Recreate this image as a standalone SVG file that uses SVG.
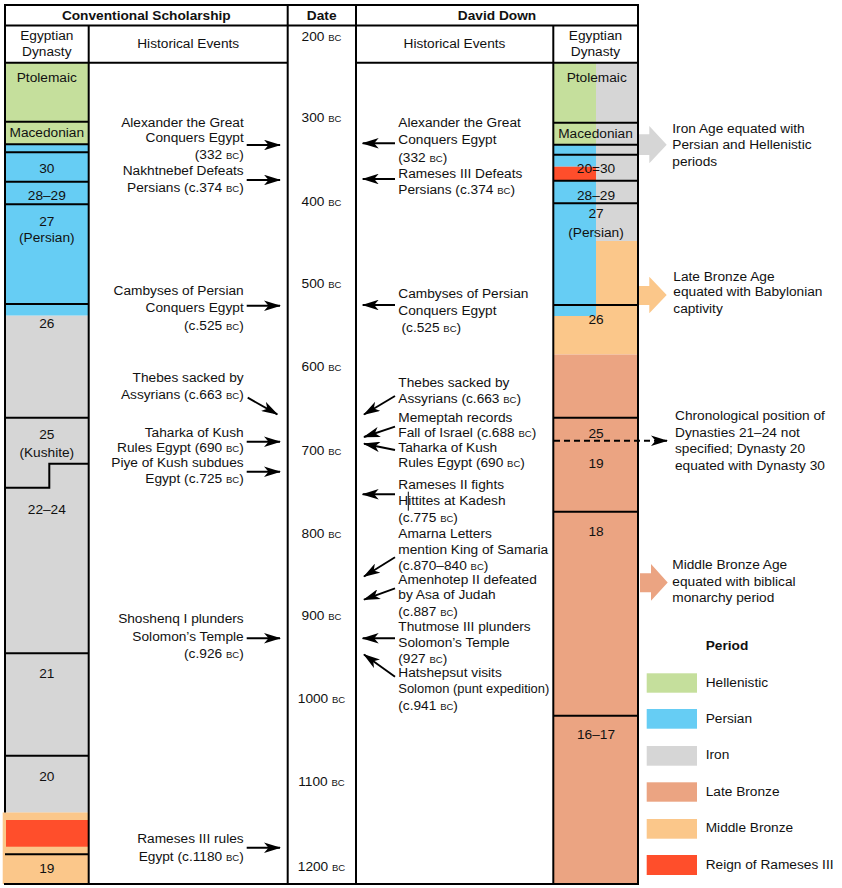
<svg xmlns="http://www.w3.org/2000/svg" width="842" height="888" viewBox="0 0 842 888">
<defs>
<style>
.t{font-family:"Liberation Sans",Arial,Helvetica,sans-serif;font-size:13.7px;fill:#111}
.b{font-weight:bold}
.m{text-anchor:middle}
.e{text-anchor:end}
.bc{font-size:9.5px}
.ln{stroke:#000;stroke-width:2;fill:none}
.ar{stroke:#000;stroke-width:1.9;fill:none;marker-end:url(#ah)}
.gr{fill:#C5DF9C}.bl{fill:#66CDF4}.ir{fill:#D6D6D6}.lb{fill:#EBA482}.mb{fill:#FBC78A}.rr{fill:#FF4E2B}
</style>
<marker id="ah" viewBox="0 0 17 10.5" refX="16" refY="5.25" markerWidth="17" markerHeight="10.5" markerUnits="userSpaceOnUse" orient="auto">
<path d="M0,0 L17,5.25 L0,10.5 L4.5,5.25 Z" fill="#000"/>
</marker>
</defs>
<rect width="842" height="888" fill="#fff"/>

<g id="conv-dynasty-fills">
<rect class="gr" x="5" y="62.7" width="83.7" height="81.6"/>
<rect class="bl" x="5" y="144.3" width="83.7" height="171.4"/>
<rect class="ir" x="5" y="315.7" width="83.7" height="497"/>
<rect class="mb" x="2.7" y="812.5" width="86" height="71.5"/>
<rect class="rr" x="6" y="820" width="82.7" height="26.7"/>
</g>

<g id="down-dynasty-fills">
<rect class="gr" x="553.3" y="62.7" width="42.7" height="82"/>
<rect class="bl" x="553.3" y="144.7" width="42.7" height="22"/>
<rect class="rr" x="553.3" y="166.7" width="42.7" height="14"/>
<rect class="bl" x="553.3" y="180.7" width="42.7" height="135.3"/>
<rect class="mb" x="553.3" y="316" width="42.7" height="38.5"/>
<rect class="ir" x="596" y="62.7" width="42" height="178.3"/>
<rect class="mb" x="596" y="241" width="42" height="113.5"/>
<rect class="lb" x="553.3" y="354.5" width="84.7" height="529.5"/>
</g>

<g id="frame">
<line class="ln" x1="5" y1="5" x2="638" y2="5"/>
<line class="ln" x1="5" y1="4" x2="5" y2="812.5"/>
<line class="ln" x1="4" y1="884" x2="639" y2="884"/>
<line class="ln" x1="638" y1="4" x2="638" y2="885"/>
<line class="ln" x1="5" y1="25.5" x2="638" y2="25.5"/>
<line class="ln" x1="5" y1="62.7" x2="287.7" y2="62.7"/>
<line class="ln" x1="356" y1="62.7" x2="638" y2="62.7"/>
<line class="ln" x1="88.7" y1="25.5" x2="88.7" y2="884"/>
<line class="ln" x1="287.7" y1="5" x2="287.7" y2="884"/>
<line class="ln" x1="356" y1="5" x2="356" y2="884"/>
<line class="ln" x1="553.3" y1="25.5" x2="553.3" y2="884"/>
</g>

<g id="headers">
<text class="t b m" x="146.3" y="20">Conventional Scholarship</text>
<text class="t b m" x="321.7" y="20">Date</text>
<text class="t b m" x="497" y="20">David Down</text>
<text class="t m" x="46.8" y="39.5">Egyptian</text>
<text class="t m" x="46.8" y="55.5">Dynasty</text>
<text class="t m" x="188.2" y="48.3">Historical Events</text>
<text class="t m" x="454.5" y="48.3">Historical Events</text>
<text class="t m" x="595.5" y="39.5">Egyptian</text>
<text class="t m" x="595.5" y="55.5">Dynasty</text>
</g>

<g id="conv-dynasties">
<line class="ln" x1="5" y1="121.7" x2="88.7" y2="121.7"/>
<line class="ln" x1="5" y1="144.3" x2="88.7" y2="144.3"/>
<line class="ln" x1="5" y1="152.3" x2="88.7" y2="152.3"/>
<line class="ln" x1="5" y1="181.7" x2="88.7" y2="181.7"/>
<line class="ln" x1="5" y1="204.3" x2="88.7" y2="204.3"/>
<line class="ln" x1="5" y1="304" x2="88.7" y2="304"/>
<line class="ln" x1="5" y1="417.7" x2="88.7" y2="417.7"/>
<path class="ln" d="M88.7,463.7 H49.3 V487.7 H5"/>
<line class="ln" x1="5" y1="653.3" x2="88.7" y2="653.3"/>
<line class="ln" x1="5" y1="755.7" x2="88.7" y2="755.7"/>
<line class="ln" x1="5" y1="854.3" x2="88.7" y2="854.3"/>
<text class="t m" x="46.8" y="82.3">Ptolemaic</text>
<text class="t m" x="46.8" y="136.7">Macedonian</text>
<text class="t m" x="46.8" y="173.3">30</text>
<text class="t m" x="46.8" y="200">28–29</text>
<text class="t m" x="46.8" y="225.7">27</text>
<text class="t m" x="46.8" y="242.3">(Persian)</text>
<text class="t m" x="46.8" y="327.7">26</text>
<text class="t m" x="46.8" y="439.3">25</text>
<text class="t m" x="46.8" y="456.7">(Kushite)</text>
<text class="t m" x="46.8" y="514.3">22–24</text>
<text class="t m" x="46.8" y="678.3">21</text>
<text class="t m" x="46.8" y="781">20</text>
<text class="t m" x="46.8" y="873.3">19</text>
</g>

<g id="down-dynasties">
<line class="ln" x1="553.3" y1="122.7" x2="638" y2="122.7"/>
<line class="ln" x1="553.3" y1="144.7" x2="638" y2="144.7"/>
<line class="ln" x1="553.3" y1="154.7" x2="638" y2="154.7"/>
<line class="ln" x1="553.3" y1="180.7" x2="638" y2="180.7"/>
<line class="ln" x1="553.3" y1="203.3" x2="638" y2="203.3"/>
<line class="ln" x1="553.3" y1="305" x2="638" y2="305"/>
<line class="ln" x1="553.3" y1="417.7" x2="638" y2="417.7"/>
<line class="ln" x1="553.3" y1="511.7" x2="638" y2="511.7"/>
<line class="ln" x1="553.3" y1="715.7" x2="638" y2="715.7"/>
<text class="t m" x="596.7" y="81.7">Ptolemaic</text>
<text class="t m" x="595.5" y="137.7">Macedonian</text>
<text class="t m" x="596" y="173.3">20=30</text>
<text class="t m" x="596" y="200">28–29</text>
<text class="t m" x="596" y="218.3">27</text>
<text class="t m" x="596" y="236.7">(Persian)</text>
<text class="t m" x="596" y="324.3">26</text>
<text class="t m" x="596" y="437.7">25</text>
<text class="t m" x="596" y="467.7">19</text>
<text class="t m" x="596" y="536">18</text>
<text class="t m" x="596" y="739.3">16–17</text>
</g>

<g id="dates">
<text class="t m" x="321.5" y="41">200 <tspan class="bc">BC</tspan></text>
<text class="t m" x="321.5" y="122.3">300 <tspan class="bc">BC</tspan></text>
<text class="t m" x="321.5" y="206.3">400 <tspan class="bc">BC</tspan></text>
<text class="t m" x="321.5" y="288.3">500 <tspan class="bc">BC</tspan></text>
<text class="t m" x="321.5" y="371">600 <tspan class="bc">BC</tspan></text>
<text class="t m" x="321.5" y="455">700 <tspan class="bc">BC</tspan></text>
<text class="t m" x="321.5" y="537.7">800 <tspan class="bc">BC</tspan></text>
<text class="t m" x="321.5" y="620">900 <tspan class="bc">BC</tspan></text>
<text class="t m" x="321.5" y="703.3">1000 <tspan class="bc">BC</tspan></text>
<text class="t m" x="321.5" y="786">1100 <tspan class="bc">BC</tspan></text>
<text class="t m" x="321.5" y="871">1200 <tspan class="bc">BC</tspan></text>
</g>

<g id="conv-events">
<text class="t e" x="243.7" y="126.7">Alexander the Great</text>
<text class="t e" x="243.7" y="142.3">Conquers Egypt</text>
<text class="t e" x="243.7" y="159">(332 <tspan class="bc">BC</tspan>)</text>
<text class="t e" x="243.7" y="175">Nakhtnebef Defeats</text>
<text class="t e" x="243.7" y="192.3">Persians (c.374 <tspan class="bc">BC</tspan>)</text>
<text class="t e" x="243.7" y="295">Cambyses of Persian</text>
<text class="t e" x="243.7" y="311.7">Conquers Egypt</text>
<text class="t e" x="243.7" y="330">(c.525 <tspan class="bc">BC</tspan>)</text>
<text class="t e" x="243.7" y="382.3">Thebes sacked by</text>
<text class="t e" x="243.7" y="399.3">Assyrians (c.663 <tspan class="bc">BC</tspan>)</text>
<text class="t e" x="243.7" y="436.7">Taharka of Kush</text>
<text class="t e" x="243.7" y="451.7">Rules Egypt (690 <tspan class="bc">BC</tspan>)</text>
<text class="t e" x="243.7" y="467.3">Piye of Kush subdues</text>
<text class="t e" x="243.7" y="483.3">Egypt (c.725 <tspan class="bc">BC</tspan>)</text>
<text class="t e" x="243.7" y="623.3">Shoshenq I plunders</text>
<text class="t e" x="243.7" y="640.7">Solomon’s Temple</text>
<text class="t e" x="243.7" y="658.3">(c.926 <tspan class="bc">BC</tspan>)</text>
<text class="t e" x="243.7" y="843.3">Rameses III rules</text>
<text class="t e" x="243.7" y="860.7">Egypt (c.1180 <tspan class="bc">BC</tspan>)</text>
</g>

<g id="down-events">
<text class="t" x="398.3" y="127.3">Alexander the Great</text>
<text class="t" x="398.3" y="144.3">Conquers Egypt</text>
<text class="t" x="398.3" y="161.7">(332 <tspan class="bc">BC</tspan>)</text>
<text class="t" x="398.3" y="177.7">Rameses III Defeats</text>
<text class="t" x="398.3" y="194">Persians (c.374 <tspan class="bc">BC</tspan>)</text>
<text class="t" x="398.3" y="298.3">Cambyses of Persian</text>
<text class="t" x="398.3" y="315">Conquers Egypt</text>
<text class="t" x="401.5" y="331.7">(c.525 <tspan class="bc">BC</tspan>)</text>
<text class="t" x="398.3" y="386.7">Thebes sacked by</text>
<text class="t" x="398.3" y="402.7">Assyrians (c.663 <tspan class="bc">BC</tspan>)</text>
<text class="t" x="398.3" y="421.7">Memeptah records</text>
<text class="t" x="398.3" y="437.3">Fall of Israel (c.688 <tspan class="bc">BC</tspan>)</text>
<text class="t" x="398.3" y="451.7">Taharka of Kush</text>
<text class="t" x="398.3" y="466.7">Rules Egypt (690 <tspan class="bc">BC</tspan>)</text>
<text class="t" x="398.3" y="489.3">Rameses II fights</text>
<text class="t" x="398.3" y="505">Hittites at Kadesh</text>
<text class="t" x="398.3" y="522.3">(c.775 <tspan class="bc">BC</tspan>)</text>
<text class="t" x="398.3" y="538.3">Amarna Letters</text>
<text class="t" x="398.3" y="554.3">mention King of Samaria</text>
<text class="t" x="398.3" y="570">(c.870–840 <tspan class="bc">BC</tspan>)</text>
<text class="t" x="398.3" y="584.3">Amenhotep II defeated</text>
<text class="t" x="398.3" y="599.3">by Asa of Judah</text>
<text class="t" x="398.3" y="616">(c.887 <tspan class="bc">BC</tspan>)</text>
<text class="t" x="398.3" y="631">Thutmose III plunders</text>
<text class="t" x="398.3" y="646.7">Solomon’s Temple</text>
<text class="t" x="398.3" y="663.3">(927 <tspan class="bc">BC</tspan>)</text>
<text class="t" x="398.3" y="676.7">Hatshepsut visits</text>
<text class="t" x="398.3" y="693.3" textLength="151" lengthAdjust="spacingAndGlyphs">Solomon (punt expedition)</text>
<text class="t" x="398.3" y="710">(c.941 <tspan class="bc">BC</tspan>)</text>
<line x1="408.3" y1="491.7" x2="408.3" y2="510.7" stroke="#000" stroke-width="1"/>
</g>

<g id="connectors">
<line class="ar" x1="246.7" y1="145" x2="280" y2="145"/>
<line class="ar" x1="246.7" y1="180" x2="280" y2="180"/>
<line class="ar" x1="246.7" y1="305.7" x2="280" y2="305.7"/>
<line class="ar" x1="247.7" y1="397.7" x2="277.3" y2="414.3"/>
<line class="ar" x1="246.7" y1="441.7" x2="280" y2="441.7"/>
<line class="ar" x1="246.7" y1="471.7" x2="280" y2="471.7"/>
<line class="ar" x1="246.7" y1="638.3" x2="280" y2="638.3"/>
<line class="ar" x1="246.7" y1="847.7" x2="280" y2="847.7"/>
<line class="ar" x1="395" y1="143.3" x2="362.7" y2="143.3"/>
<line class="ar" x1="395" y1="179" x2="362.7" y2="179"/>
<line class="ar" x1="395" y1="305" x2="362.7" y2="305"/>
<line class="ar" x1="395" y1="396" x2="364" y2="414.5"/>
<line class="ar" x1="395" y1="426.7" x2="364" y2="437"/>
<line class="ar" x1="395" y1="450" x2="364" y2="443.8"/>
<line class="ar" x1="395" y1="494.3" x2="362.7" y2="494.3"/>
<line class="ar" x1="395" y1="557.3" x2="364" y2="576.5"/>
<line class="ar" x1="395" y1="588.3" x2="364" y2="599.7"/>
<line class="ar" x1="395" y1="638.3" x2="362.7" y2="638.3"/>
<line class="ar" x1="395" y1="676.7" x2="364" y2="654.5"/>
<line class="ar" x1="554" y1="440.7" x2="667" y2="440.7" stroke-dasharray="6 4" stroke-width="2"/>
</g>

<g id="period-notes">
<polygon fill="#D6D6D6" points="639,134.3 649.3,134.3 649.3,126 666.7,144.7 649.3,163.3 649.3,155 639,155"/>
<text class="t" x="672.3" y="133.3">Iron Age equated with</text>
<text class="t" x="672.3" y="149.3">Persian and Hellenistic</text>
<text class="t" x="672.3" y="165.7">periods</text>
<polygon fill="#FBC78A" points="639,286 649.3,286 649.3,276.7 666.7,295 649.3,313.3 649.3,305 639,305"/>
<text class="t" x="673.3" y="280.7">Late Bronze Age</text>
<text class="t" x="673.3" y="295.7">equated with Babylonian</text>
<text class="t" x="673.3" y="312.7">captivity</text>
<text class="t" x="675" y="420">Chronological position of</text>
<text class="t" x="675" y="437.3">Dynasties 21–24 not</text>
<text class="t" x="675" y="453.3">specified; Dynasty 20</text>
<text class="t" x="675" y="470">equated with Dynasty 30</text>
<polygon fill="#EBA482" points="640,573.3 651,573.3 651,564 667.7,582.5 651,600.7 651,592.3 640,592.3"/>
<text class="t" x="672.3" y="569">Middle Bronze Age</text>
<text class="t" x="672.3" y="586">equated with biblical</text>
<text class="t" x="672.3" y="602.3">monarchy period</text>
</g>

<g id="legend">
<text class="t b" x="705.7" y="650">Period</text>
<rect class="gr" x="646.7" y="673.3" width="50.3" height="19.4"/>
<text class="t" x="705.7" y="686.7">Hellenistic</text>
<rect class="bl" x="646.7" y="709" width="50.3" height="19.7"/>
<text class="t" x="705.7" y="723.3">Persian</text>
<rect class="ir" x="646.7" y="746" width="50.3" height="19.7"/>
<text class="t" x="705.7" y="759.3">Iron</text>
<rect class="lb" x="646.7" y="782.3" width="50.3" height="19.4"/>
<text class="t" x="705.7" y="796">Late Bronze</text>
<rect class="mb" x="646.7" y="819" width="50.3" height="19.7"/>
<text class="t" x="705.7" y="832.3">Middle Bronze</text>
<rect class="rr" x="646.7" y="855" width="50.3" height="20"/>
<text class="t" x="705.7" y="869.3">Reign of Rameses III</text>
</g>
</svg>
